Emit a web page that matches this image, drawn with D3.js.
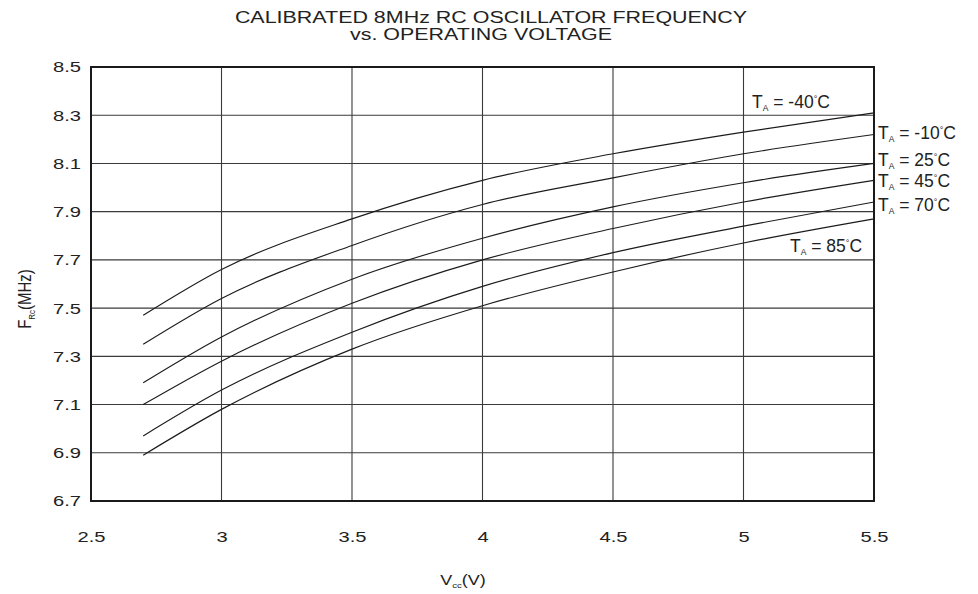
<!DOCTYPE html>
<html>
<head>
  <title>Calibrated 8MHz RC Oscillator Frequency</title>
  <script src="https://d3js.org/d3.v7.min.js"></script>
  <style>
    body { margin: 0; background: #ffffff; }
    svg { display: block; font-family: 'Liberation Sans', Arial, sans-serif; }
    .grid line { stroke: #3a3a3a; stroke-width: 1.1px; }
    .curve { fill: none; stroke: #1c1c1c; stroke-width: 1.15px; }
  </style>
</head>
<body>
  <div id="chart"></div>
  <script>
    // Vcc values (V) where the curves were read
    const vcc = [2.7, 3.0, 3.5, 4.0, 4.5, 5.0, 5.5];
    // Frequency (MHz) per temperature
    const fM40 = [7.47, 7.66, 7.87, 8.03, 8.14, 8.23, 8.31];
    const fM10 = [7.35, 7.54, 7.76, 7.93, 8.04, 8.14, 8.22];
    const f25 = [7.19, 7.38, 7.62, 7.79, 7.92, 8.02, 8.10];
    const f45 = [7.10, 7.28, 7.52, 7.70, 7.83, 7.94, 8.03];
    const f70 = [6.97, 7.16, 7.40, 7.59, 7.73, 7.84, 7.94];
    const f85 = [6.89, 7.08, 7.33, 7.51, 7.65, 7.77, 7.87];
    const tempLabels = ["-40", "-10", "25", "45", "70", "85"];
    const xTicks = [2.5, 3, 3.5, 4, 4.5, 5, 5.5];
    const yTicks = [6.7, 6.9, 7.1, 7.3, 7.5, 7.7, 7.9, 8.1, 8.3, 8.5];

    const series = [fM40, fM10, f25, f45, f70, f85];

    const W = 978, H = 594;
    const margin = { top: 67, right: 104, bottom: 93, left: 91 };
    const width = W - margin.left - margin.right;
    const height = H - margin.top - margin.bottom;
    const sx = 1.3; // the original is stretched horizontally

    const svg = d3.select("#chart").append("svg")
      .attr("width", W)
      .attr("height", H);

    const g = svg.append("g")
      .attr("transform", `translate(${margin.left},${margin.top})`);

    const x = d3.scaleLinear().domain([2.5, 5.5]).range([0, width]);
    const y = d3.scaleLinear().domain([6.7, 8.5]).range([height, 0]);

    // grid
    const grid = g.append("g").attr("class", "grid");
    grid.selectAll(".h").data(yTicks).join("line")
      .attr("x1", 0).attr("x2", width)
      .attr("y1", d => y(d)).attr("y2", d => y(d));
    grid.selectAll(".v").data(xTicks).join("line")
      .attr("y1", 0).attr("y2", height)
      .attr("x1", d => x(d)).attr("x2", d => x(d));

    // axes (labels only, no outer ticks)
    const yAxis = g.append("g")
      .call(d3.axisLeft(y).tickValues(yTicks).tickFormat(d3.format(".1f")).tickSize(0).tickPadding(0));
    yAxis.select(".domain").remove();
    yAxis.selectAll("text")
      .attr("x", 0)
      .attr("transform", `translate(-10,0) scale(${sx},1)`)
      .style("font-size", "15.5px")
      .style("fill", "#222");

    const xAxis = g.append("g")
      .attr("transform", `translate(0,${height})`)
      .call(d3.axisBottom(x).tickValues(xTicks).tickFormat(d => d).tickSize(0).tickPadding(0));
    xAxis.select(".domain").remove();
    xAxis.selectAll("text")
      .attr("y", 0).attr("dy", 0)
      .attr("transform", `translate(0,41) scale(${sx},1)`)
      .style("font-size", "15.5px")
      .style("fill", "#222");

    // curves
    const line = d3.line()
      .x((d, i) => x(vcc[i]))
      .y(d => y(d))
      .curve(d3.curveMonotoneX);

    g.selectAll(".curve").data(series).join("path")
      .attr("class", "curve")
      .attr("d", line);

    // frame
    g.append("rect")
      .attr("width", width).attr("height", height)
      .attr("fill", "none").attr("stroke", "#1a1a1a").attr("stroke-width", 2);

    // curve labels
    const labelPos = [
      { x: 752, y: 108 }, { x: 878, y: 139 }, { x: 878, y: 166 },
      { x: 878, y: 187 }, { x: 878, y: 211 }, { x: 790, y: 252 }
    ];
    tempLabels.forEach((t, i) => {
      const txt = svg.append("text")
        .attr("x", labelPos[i].x).attr("y", labelPos[i].y)
        .style("font-size", "17.5px").style("fill", "#222");
      txt.append("tspan").text("T");
      txt.append("tspan").attr("dy", 3).style("font-size", "8.5px").text("A");
      txt.append("tspan").attr("dy", -3).text(" = " + t);
      txt.append("tspan").attr("dy", -6).style("font-size", "9px").text("\u00B0");
      txt.append("tspan").attr("dy", 6).text("C");
    });

    // title
    const titleLines = [
      { text: "CALIBRATED 8MHz RC OSCILLATOR FREQUENCY", x: 491, y: 23 },
      { text: "vs. OPERATING VOLTAGE", x: 481, y: 40 }
    ];
    titleLines.forEach(t => {
      svg.append("text")
        .attr("transform", `translate(${t.x},${t.y}) scale(1.3,1)`)
        .attr("text-anchor", "middle")
        .style("font-size", "16.5px").style("fill", "#222")
        .text(t.text);
    });

    // x axis title
    const xt = svg.append("text")
      .attr("transform", `translate(463,585) scale(1.2,1)`)
      .attr("text-anchor", "middle")
      .style("font-size", "15px").style("fill", "#222");
    xt.append("tspan").text("V");
    xt.append("tspan").attr("dy", 3).style("font-size", "8px").text("cc");
    xt.append("tspan").attr("dy", -3).text("(V)");

    // y axis title
    const yt = svg.append("text")
      .attr("transform", `translate(31,299) rotate(-90) scale(1,1.2)`)
      .attr("text-anchor", "middle")
      .style("font-size", "15px").style("fill", "#222");
    yt.append("tspan").text("F");
    yt.append("tspan").attr("dy", 3).style("font-size", "8px").text("Rc");
    yt.append("tspan").attr("dy", -3).text("(MHz)");
  </script>
</body>
</html>
